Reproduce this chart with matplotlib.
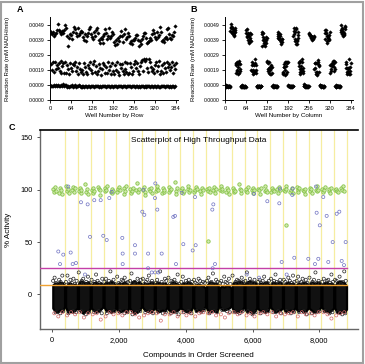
import numpy as np
import matplotlib.pyplot as plt
from matplotlib.patches import Rectangle

plt.rcParams['font.family'] = ['Liberation Sans', 'DejaVu Sans']

# reaction rates of one 384-well plate, x1e-5 mM NADH/min, 16 rows x 24 columns
rate_rows = [
    [88, 452, 232, 84, 437, 188, 86, 428, 241, 82, 446, 176, 90, 421, 247, 85, 433, 195, 87, 440, 226, 83, 458, 203],
    [93, 498, 238, 86, 461, 182, 84, 447, 251, 90, 429, 171, 85, 452, 219, 94, 438, 236, 86, 455, 168, 91, 489, 244],
    [87, 472, 169, 79, 418, 221, 85, 352, 196, 78, 405, 163, 86, 433, 238, 84, 426, 207, 90, 397, 185, 77, 445, 229],
    [85, 481, 227, 88, 463, 246, 76, 441, 181, 86, 418, 209, 84, 472, 166, 87, 427, 240, 85, 436, 198, 80, 452, 174],
    [78, 447, 193, 86, 409, 167, 84, 392, 236, 75, 428, 214, 83, 386, 179, 85, 421, 161, 79, 441, 225, 84, 463, 202],
    [84, 479, 242, 77, 432, 188, 85, 411, 172, 83, 397, 231, 86, 446, 249, 78, 415, 177, 84, 458, 218, 86, 471, 164],
    [83, 441, 184, 85, 388, 229, 76, 369, 203, 84, 402, 158, 79, 395, 196, 86, 419, 237, 83, 374, 222, 85, 428, 171],
    [86, 462, 211, 78, 437, 168, 84, 398, 245, 81, 421, 192, 85, 474, 216, 77, 405, 163, 86, 419, 239, 82, 447, 183],
    [77, 432, 162, 84, 376, 224, 82, 358, 189, 85, 391, 241, 76, 367, 174, 83, 402, 158, 81, 385, 233, 84, 419, 205],
    [84, 453, 228, 76, 418, 181, 83, 377, 166, 82, 432, 247, 84, 462, 199, 78, 398, 176, 85, 414, 236, 82, 438, 161],
    [82, 418, 173, 85, 371, 239, 77, 383, 214, 83, 364, 165, 82, 392, 187, 84, 389, 228, 76, 402, 252, 83, 427, 206],
    [85, 427, 235, 78, 394, 186, 84, 351, 163, 76, 382, 219, 83, 366, 243, 82, 398, 258, 84, 417, 181, 77, 441, 262],
    [83, 441, 248, 84, 402, 261, 78, 369, 204, 81, 378, 177, 84, 387, 265, 83, 404, 242, 79, 389, 213, 85, 428, 186],
    [84, 458, 196, 79, 437, 172, 85, 412, 227, 83, 401, 244, 77, 447, 183, 84, 413, 218, 83, 427, 249, 78, 478, 167],
    [78, 447, 185, 83, 385, 226, 81, 391, 168, 84, 376, 237, 82, 403, 201, 76, 412, 179, 85, 398, 241, 83, 463, 212],
    [85, 472, 229, 79, 431, 191, 83, 404, 214, 78, 399, 246, 84, 423, 173, 83, 418, 221, 77, 446, 195, 84, 485, 238],
]
well_ticks = [0, 64, 128, 192, 256, 320, 384]
rate_ticks = [-0.0001, 0.0009, 0.0019, 0.0029, 0.0039, 0.0049]
rate_labels = ['0.0000', '0.0009', '0.0019', '0.0029', '0.0039', '0.0049']

# screen: 23 plates of 384 compounds
plate_size = 384
n_plates = 23
# bulk of inactive compounds, envelope per plate (% activity)
env_offsets = [15, 80, 155, 230, 305, 368]
bulk_hi = [
    [9, 11, 10, 12, 11, 8], [7, 10, 11, 9, 10, 8], [10, 13, 12, 11, 12, 9], [8, 11, 12, 10, 11, 9],
    [10, 12, 11, 13, 11, 8], [9, 11, 10, 12, 10, 9], [8, 12, 13, 11, 12, 10], [9, 11, 10, 11, 12, 8],
    [10, 12, 11, 10, 11, 9], [8, 10, 12, 11, 10, 8], [9, 11, 10, 12, 11, 9], [7, 9, 10, 9, 8, 6],
    [8, 11, 12, 10, 11, 8], [6, 8, 7, 9, 8, 6], [9, 12, 11, 13, 12, 9], [10, 12, 13, 11, 12, 9],
    [8, 11, 10, 12, 11, 8], [9, 12, 11, 11, 12, 9], [8, 11, 12, 10, 11, 8], [9, 11, 10, 12, 11, 9],
    [8, 12, 11, 11, 12, 8], [9, 11, 12, 10, 11, 9], [8, 11, 13, 12, 11, 8],
]
bulk_lo = [
    [-13, -16, -17, -15, -16, -12], [-12, -17, -16, -17, -15, -13], [-14, -16, -18, -16, -17, -13],
    [-13, -15, -17, -16, -14, -12], [-12, -16, -15, -17, -16, -13], [-14, -17, -16, -15, -17, -13],
    [-13, -16, -18, -17, -15, -12], [-12, -15, -16, -17, -16, -13], [-13, -17, -16, -15, -16, -12],
    [-14, -16, -17, -16, -15, -13], [-13, -15, -16, -17, -16, -12], [-12, -16, -15, -16, -14, -11],
    [-13, -17, -16, -15, -17, -13], [-11, -14, -15, -14, -13, -11], [-13, -16, -17, -16, -15, -12],
    [-14, -17, -16, -18, -16, -13], [-13, -16, -15, -17, -16, -12], [-12, -15, -17, -16, -15, -13],
    [-13, -17, -16, -15, -16, -12], [-14, -16, -15, -17, -16, -13], [-13, -15, -17, -16, -15, -12],
    [-12, -16, -16, -17, -15, -13], [-13, -17, -18, -16, -17, -14],
]
# scattered weak compounds above and below the bulk
fringe_offsets = [25, 70, 115, 160, 205, 250, 300, 345]
fringe_vals = [
    [13, 16, 11, 10, 14, 12, 18, 10], [12, 18, 10, 14, 11, 15, 10, 13], [21, 11, 13, 15, 10, 12, 17, 11],
    [14, 10, 12, 19, 13, 11, 10, 15], [12, 15, 10, 13, 22, 11, 14, 10], [17, 11, 10, 14, 13, 16, 11, 12],
    [13, 20, 11, 12, 10, 15, 11, 14], [15, 10, 12, 14, 18, 11, 13, 10], [11, 14, 10, 22, 12, 10, 15, 13],
    [16, 10, 13, 12, 14, 11, 19, 10], [12, 17, 10, 13, 11, 14, 10, 12], [14, 11, 10, 15, 13, 10, 12, 11],
    [13, 16, 11, 12, 20, 10, 14, 12], [11, 13, 10, 17, 12, 11, 15, 10], [18, 10, 12, 14, 13, 11, 16, 12],
    [13, 21, 10, 15, 12, 11, 14, 10], [12, 14, 11, 13, 17, 10, 11, 13], [15, 10, 13, 19, 12, 11, 14, 10],
    [14, 12, 10, 16, 13, 11, 18, 12], [13, 17, 11, 12, 15, 10, 14, 11], [16, 10, 12, 14, 21, 11, 13, 10],
    [12, 15, 10, 13, 14, 11, 19, 12], [14, 13, 11, 17, 10, 12, 22, 13],
]
low_offsets = [100, 240, 330]
low_vals = [
    [-17, -18, -16], [-18, -16, -17], [-16, -19, -17], [-17, -16, -18], [-18, -17, -16],
    [-16, -18, -17], [-19, -17, -16], [-17, -16, -18], [-16, -18, -17], [-18, -17, -19],
    [-17, -16, -18], [-16, -17, -15], [-18, -16, -17], [-15, -16, -17], [-17, -18, -16],
    [-16, -19, -17], [-18, -17, -16], [-17, -16, -18], [-16, -18, -17], [-17, -16, -19],
    [-18, -17, -16], [-16, -18, -17], [-17, -19, -18],
]
# negative controls
neg_offsets = [60, 180, 300]
neg_vals = [
    [-18, -21, -17], [-20, -17, -19], [-17, -22, -18], [-19, -18, -24], [-21, -17, -19],
    [-18, -20, -17], [-17, -19, -22], [-20, -18, -17], [-18, -25, -19], [-19, -17, -21],
    [-17, -20, -18], [-21, -18, -17], [-18, -17, -20], [-19, -22, -18], [-17, -19, -17],
    [-20, -18, -21], [-18, -17, -19], [-17, -21, -18], [-19, -18, -17], [-21, -17, -19],
    [-18, -20, -17], [-17, -19, -23], [-20, -18, -17],
]
# positive controls
pos_offsets = [30, 55, 80, 105, 215, 240, 265, 290]
pos_vals = [
    [101, 98, 103, 99, 97, 102, 100, 96], [104, 99, 101, 97, 100, 103, 98, 102],
    [99, 102, 97, 100, 105, 98, 101, 96], [100, 97, 102, 99, 103, 101, 95, 100],
    [102, 99, 100, 104, 98, 97, 101, 99], [98, 101, 103, 100, 96, 102, 99, 104],
    [101, 97, 99, 102, 100, 106, 98, 101], [100, 103, 98, 95, 101, 99, 102, 97],
    [99, 101, 104, 100, 97, 102, 98, 100], [103, 98, 100, 101, 107, 99, 96, 102],
    [100, 102, 97, 99, 101, 104, 98, 100], [98, 100, 103, 101, 99, 96, 102, 100],
    [101, 99, 102, 98, 100, 103, 97, 101], [100, 104, 99, 101, 98, 102, 100, 96],
    [102, 98, 100, 99, 105, 101, 97, 100], [99, 101, 98, 103, 100, 97, 102, 100],
    [101, 100, 96, 102, 99, 104, 100, 98], [98, 102, 100, 99, 101, 97, 103, 100],
    [100, 99, 104, 101, 98, 100, 102, 97], [103, 100, 98, 102, 100, 99, 96, 101],
    [99, 102, 101, 97, 100, 104, 99, 100], [101, 98, 100, 103, 99, 101, 97, 102],
    [100, 101, 99, 98, 102, 100, 104, 99],
]
pos_out_x = [4675, 6993]
pos_out_y = [51, 66]
# hits
hit_x = [180, 330, 551, 231, 611, 710, 479, 860, 980, 1060, 1130, 1258, 1450, 1528, 1630, 1708, 1780,
         2098, 2109, 2109, 2478, 2478, 2697, 2727, 2757, 2871, 2871, 2980, 3080, 3180,
         3087, 3077, 3146, 3278, 3626, 3677, 3706, 3877, 3926, 4207, 4276, 4296, 4795, 4805, 4825, 4875,
         5824, 6044, 6193, 6443, 6802, 6823, 6873, 7023, 7191, 7203, 7251,
         7671, 7871, 7901, 7921, 7971, 8015, 8120, 8221, 8270, 8401, 8521, 8600, 8671, 8740, 8790]
hit_y = [41, 38, 40, 29, 29, 30, 103, 88, 19, 86, 55, 90, 90, 56, 52, 92, 98,
         54, 39, 29, 47, 39, 79, 100, 76, 39, 25, 21, 21, 21,
         106, 92, 81, 39, 74, 75, 29, 97, 48, 42, 93, 47, 81, 25, 86, 29,
         19, 96, 16, 89, 87, 101, 31, 19, 95, 101, 35,
         34, 29, 103, 78, 34, 66, 93, 75, 31, 50, 77, 79, 32, 28, 50]
hit_cut = 25
mean_cut = 9


fig = plt.figure(figsize=(3.65, 3.64), dpi=100)
fig.add_artist(Rectangle((0.003, 0.003), 0.991, 0.991, transform=fig.transFigure,
                         fill=False, ec='#a0a0a0', lw=1.5))

rates = np.array(rate_rows) * 1e-5
n_rows, n_cols = rates.shape
rr, cc = np.indices(rates.shape)
by_row = (rr * n_cols + cc).ravel()
by_col = (cc * n_rows + rr).ravel()


def small_panel(rect, x, xlabel, ylab_x, letter):
    ax = fig.add_axes(rect)
    ax.plot(x, rates.ravel(), 'D', ms=1.8, color='black', mec='black', mew=0.3)
    ax.set_xlim(0, 390)
    ax.set_ylim(-0.0001, 0.00545)
    ax.set_xticks(well_ticks)
    ax.set_yticks(rate_ticks)
    ax.set_yticklabels(rate_labels)
    ax.tick_params(axis='x', labelsize=4.2, length=2, width=0.6, pad=2)
    ax.tick_params(axis='y', labelsize=3.7, length=2, width=0.6, pad=2)
    for s in ['top', 'right']:
        ax.spines[s].set_visible(False)
    for s in ['left', 'bottom']:
        ax.spines[s].set_linewidth(0.7)
    ax.set_xlabel(xlabel, fontsize=4.5)
    ax.xaxis.set_label_coords(0.5, -0.16)
    ax.set_ylabel('Reaction Rate (mM NADH/min)', fontsize=4.3)
    ax.yaxis.set_label_coords(ylab_x, 0.5)
    ax.text(-0.26 if letter == 'A' else -0.27, 1.09, letter, transform=ax.transAxes,
            fontsize=6.5, fontweight='bold', ha='left', va='center')
    return ax


small_panel([50 / 365, 1 - 100 / 364, 128 / 365, 83 / 364], by_row, 'Well Number by Row', -0.31, 'A')
small_panel([225 / 365, 1 - 100 / 364, 128 / 365, 83 / 364], by_col, 'Well Number by Column', -0.23, 'B')

# panel C
ax = fig.add_axes([40 / 365, 1 - 329 / 364, 318 / 365, 199 / 364])
ax.set_xlim(-368, 9160)
ax.set_ylim(-33, 157)

for k in range(1, n_plates + 1):
    ax.axvline(k * plate_size, color='#f6eda0', lw=0.9, zorder=0)

env_offsets = np.array(env_offsets)
for p in range(n_plates):
    xs = p * plate_size + env_offsets
    ax.fill_between(xs, bulk_lo[p], bulk_hi[p], color='#111111', ec='black', lw=1.6, zorder=2)

fx = [p * plate_size + o for p in range(n_plates) for o in fringe_offsets]
fx += [p * plate_size + o for p in range(n_plates) for o in low_offsets]
fy = [v for row in fringe_vals for v in row] + [v for row in low_vals for v in row]
ax.scatter(fx, fy, s=5, facecolors='none', edgecolors='#222222', linewidths=0.5, zorder=3)

nx = [p * plate_size + o for p in range(n_plates) for o in neg_offsets]
ny = [v for row in neg_vals for v in row]
ax.scatter(nx, ny, s=5, facecolors='none', edgecolors='#d46a6a', linewidths=0.5, zorder=3)

ax.axhline(hit_cut, xmax=0.965, color='#c43fa8', lw=1.0, zorder=4)
ax.axhline(mean_cut, xmax=0.965, color='#f0a232', lw=1.0, zorder=4)

px = [p * plate_size + o for p in range(n_plates) for o in pos_offsets] + pos_out_x
py = [v for row in pos_vals for v in row] + pos_out_y
ax.scatter(px, py, s=6, facecolors='#cfe8a8', edgecolors='#7cbf3c', linewidths=0.6, alpha=0.9, zorder=5)
ax.scatter(hit_x, hit_y, s=5, facecolors='none', edgecolors='#6f72c2', linewidths=0.5, zorder=5)

ax.set_xticks([0, 2000, 4000, 6000, 8000])
ax.set_xticklabels(['0', '2,000', '4,000', '6,000', '8,000'])
ax.set_yticks([0, 50, 100, 150])
ax.tick_params(labelsize=5.3, length=2.5, width=0.7, color='#555555', pad=3)
ax.spines['right'].set_visible(False)
ax.spines['top'].set_linewidth(1.2)
for s in ['left', 'bottom']:
    ax.spines[s].set_color('#666666')
    ax.spines[s].set_linewidth(1.0)
ax.text(0.5, 0.945, 'Scatterplot of High Throughput Data', transform=ax.transAxes,
        ha='center', va='center', fontsize=6)
ax.set_xlabel('Compounds in Order Screened', fontsize=5.8)
ax.xaxis.set_label_coords(0.497, -0.116)
ax.set_ylabel('% Activity', fontsize=5.8)
ax.yaxis.set_label_coords(-0.088, 0.5)
ax.text(-0.1, 1.015, 'C', transform=ax.transAxes, fontsize=6.5, fontweight='bold',
        ha='left', va='center')

fig.savefig('out.png', dpi=100)
